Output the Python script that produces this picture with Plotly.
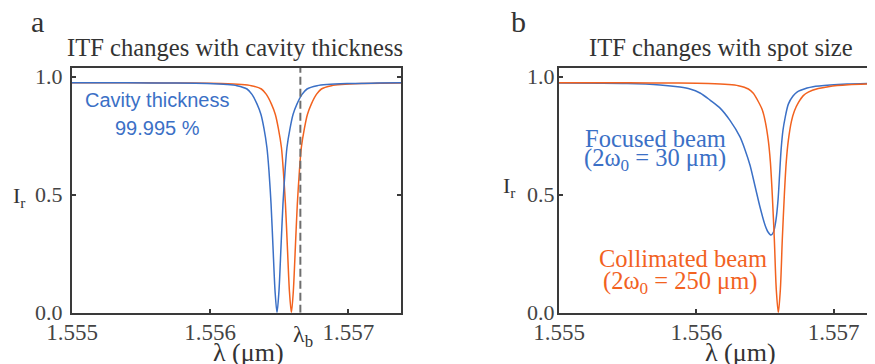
import plotly.graph_objects as go

# ---------------- data ----------------
lam_a_blue = [1.555000, 1.555396, 1.555758, 1.555976, 1.556121, 1.556193, 1.556266, 1.556302,
              1.556338, 1.556367, 1.556389, 1.556410, 1.556425, 1.556440, 1.556454, 1.556469,
              1.556483, 1.556497, 1.556512, 1.556526, 1.556541, 1.556555, 1.556577, 1.556599,
              1.556628, 1.556664, 1.556700, 1.556773, 1.556845, 1.556990, 1.557208, 1.557380]
I_a_blue = [0.974, 0.974, 0.973, 0.971, 0.967, 0.962, 0.948, 0.925,
            0.885, 0.84, 0.78, 0.70, 0.60, 0.46, 0.28, 0.09,
            0.0, 0.09, 0.28, 0.46, 0.60, 0.70, 0.78, 0.84,
            0.885, 0.925, 0.948, 0.962, 0.967, 0.971, 0.973, 0.974]

lam_a_orange = [1.555000, 1.555500, 1.555862, 1.556080, 1.556225, 1.556297, 1.556370, 1.556406,
                1.556442, 1.556471, 1.556493, 1.556515, 1.556529, 1.556544, 1.556558, 1.556573,
                1.556587, 1.556601, 1.556616, 1.556630, 1.556645, 1.556659, 1.556681, 1.556703,
                1.556732, 1.556768, 1.556804, 1.556877, 1.556949, 1.557094, 1.557380]
I_a_orange = [0.974, 0.974, 0.973, 0.971, 0.967, 0.962, 0.948, 0.925,
              0.885, 0.84, 0.78, 0.70, 0.60, 0.46, 0.28, 0.09,
              0.0, 0.09, 0.28, 0.46, 0.60, 0.70, 0.78, 0.84,
              0.885, 0.925, 0.948, 0.962, 0.967, 0.971, 0.973]

lam_b_blue = [1.555000, 1.555495, 1.555736, 1.555881, 1.555954, 1.556027, 1.556100, 1.556173,
              1.556245, 1.556318, 1.556355, 1.556391, 1.556428, 1.556464, 1.556500, 1.556522,
              1.556544, 1.556562, 1.556580, 1.556595, 1.556606, 1.556617, 1.556631, 1.556646,
              1.556670, 1.556704, 1.556733, 1.556806, 1.556850, 1.556974, 1.557098, 1.557302]
I_b_blue = [0.973, 0.971, 0.965, 0.956, 0.948, 0.931, 0.901, 0.867,
            0.815, 0.745, 0.690, 0.625, 0.535, 0.447, 0.372, 0.342,
            0.329, 0.342, 0.393, 0.478, 0.583, 0.689, 0.774, 0.825,
            0.884, 0.918, 0.935, 0.952, 0.958, 0.965, 0.969, 0.972]

lam_b_orange = [1.555000, 1.555505, 1.555869, 1.556087, 1.556233, 1.556306, 1.556379, 1.556415,
                1.556451, 1.556480, 1.556502, 1.556524, 1.556539, 1.556553, 1.556568, 1.556582,
                1.556597, 1.556612, 1.556626, 1.556641, 1.556655, 1.556670, 1.556692, 1.556714,
                1.556743, 1.556779, 1.556815, 1.556888, 1.556961, 1.557107, 1.557301]
I_b_orange = [0.974, 0.974, 0.973, 0.971, 0.967, 0.962, 0.948, 0.930,
              0.895, 0.860, 0.810, 0.730, 0.640, 0.500, 0.310, 0.100,
              0.0, 0.10, 0.31, 0.50, 0.64, 0.73, 0.81, 0.855,
              0.89, 0.92, 0.935, 0.95, 0.958, 0.966, 0.970]

lambda_b = 1.556652
x_tick_vals = [1.555, 1.556, 1.557]
x_tick_text = ["1.555", "1.556", "1.557"]
y_tick_vals = [0.0, 0.5, 1.0]
y_tick_text = ["0.0", "0.5", "1.0"]

# ---------------- styling ----------------
BLUE = "#3b70c6"
ORANGE = "#f2621f"
AXC = "#3a3a3a"
TXT = "#333333"
SERIF = "Liberation Serif"
SANS = "Liberation Sans"

# the page body has an 8px margin: size the figure to the remaining window area
OFF = 8
W, H = 875 - OFF, 364 - OFF
def px(x):
    return (x - OFF) / W
def py(y):
    return 1 - (y - OFF) / H

fig = go.Figure()
line_kw = dict(width=1.5, shape="spline", smoothing=0.8)
fig.add_trace(go.Scatter(x=lam_a_orange, y=I_a_orange, mode="lines", line=dict(color=ORANGE, **line_kw),
                         xaxis="x", yaxis="y", showlegend=False, hoverinfo="skip"))
fig.add_trace(go.Scatter(x=lam_a_blue, y=I_a_blue, mode="lines", line=dict(color=BLUE, **line_kw),
                         xaxis="x", yaxis="y", showlegend=False, hoverinfo="skip"))
fig.add_trace(go.Scatter(x=lam_b_blue, y=I_b_blue, mode="lines", line=dict(color=BLUE, **line_kw),
                         xaxis="x2", yaxis="y2", showlegend=False, hoverinfo="skip"))
fig.add_trace(go.Scatter(x=lam_b_orange, y=I_b_orange, mode="lines", line=dict(color=ORANGE, **line_kw),
                         xaxis="x2", yaxis="y2", showlegend=False, hoverinfo="skip"))

ydom = [py(312.7), py(68)]
common_x = dict(tickvals=x_tick_vals, ticktext=x_tick_text, ticks="inside", ticklen=4, tickwidth=2,
                tickcolor=AXC, showline=True, linecolor=AXC, linewidth=2, showgrid=False, zeroline=False,
                automargin=False, ticklabelstandoff=-2,
                tickfont=dict(family=SERIF, size=23, color="#444"))
common_y = dict(tickvals=y_tick_vals, ticktext=y_tick_text, ticks="inside", ticklen=4, tickwidth=2,
                tickcolor=AXC, showline=True, linecolor=AXC, linewidth=2, showgrid=False, zeroline=False,
                automargin=False, range=[0, 1.037], domain=ydom,
                tickfont=dict(family=SERIF, size=22, color="#444"))

fig.update_layout(
    width=W, height=H, margin=dict(l=0, r=0, t=0, b=0, autoexpand=False),
    paper_bgcolor="white", plot_bgcolor="white",
    xaxis=dict(domain=[px(72), px(401)], range=[1.555, 1.55738], anchor="y", mirror=True, **common_x),
    yaxis=dict(anchor="x", mirror="ticks", ticklabelstandoff=3, **common_y),
    xaxis2=dict(domain=[px(559), 1.0], range=[1.555, 1.557301], anchor="y2", mirror=True, **common_x),
    yaxis2=dict(anchor="x2", mirror=False, ticklabelstandoff=-2, **common_y),
)

# dashed lambda_b line
fig.add_shape(type="line", xref="x", yref="y", x0=lambda_b, x1=lambda_b, y0=0, y1=1.037,
              line=dict(color="#6e6e6e", width=2, dash="8px,4px"))

def ann(text, x, y, size, color=TXT, family=SERIF, **kw):
    fig.add_annotation(text=text, x=px(x), y=py(y), xref="paper", yref="paper", showarrow=False,
                       font=dict(family=family, size=size, color=color), xanchor="center",
                       yanchor="middle", **kw)

ann("a", 37.5, 22, 30)
ann("b", 519, 21, 30)
ann("ITF changes with cavity thickness", 235, 47, 24.6)
ann("ITF changes with spot size", 720.5, 47, 24.6)
ann("I<sub>r</sub>", 19, 197, 22)
ann("I<sub>r</sub>", 509, 187, 22)
ann("λ (μm)", 248, 352, 26)
ann("λ (μm)", 740, 352, 26)
ann("λ<sub>b</sub>", 303, 336, 24)
ann("Cavity thickness", 157, 100, 20, color=BLUE, family=SANS)
ann("99.995 %", 157, 128, 20, color=BLUE, family=SANS)
ann("Focused beam", 655, 138, 24.5, color=BLUE)
ann("(2ω<sub>0</sub> = 30 μm)", 655, 160, 24.5, color=BLUE)
ann("Collimated beam", 683, 258, 24.5, color=ORANGE)
ann("(2ω<sub>0</sub> = 250 μm)", 680, 282, 24.5, color=ORANGE)

fig.write_html("out.html")
